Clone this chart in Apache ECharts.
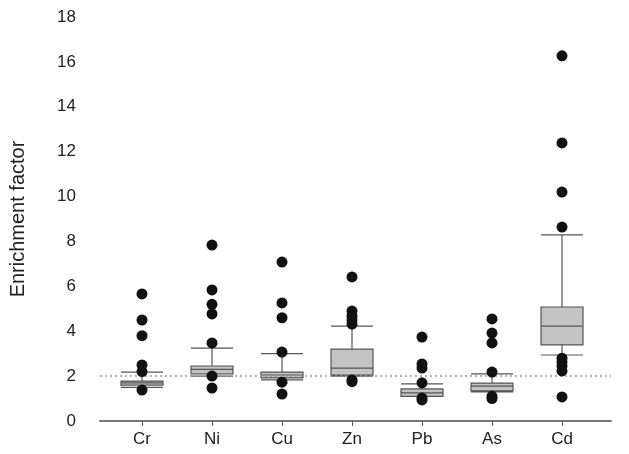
<!DOCTYPE html><html><head><meta charset="utf-8"><script src="https://cdn.jsdelivr.net/npm/echarts@6/dist/echarts.min.js"></script></head><body style="margin:0"><div id="c" style="width:629px;height:454px"></div><script>
const categories=['Cr','Ni','Cu','Zn','Pb','As','Cd'];
const boxes=[[1.5,1.6,1.7,1.78,2.18],[2.0,2.1,2.3,2.45,3.25],[1.83,1.92,2.05,2.18,3.0],[2.0,2.05,2.36,3.2,4.23],[1.1,1.1,1.25,1.43,1.65],[1.3,1.34,1.55,1.69,2.1],[2.94,3.39,4.23,5.08,8.29]];
const outliers=[[5.66,4.5,3.8,2.5,2.2,1.38],[7.84,5.84,5.2,4.77,3.48,2.0,1.47],[7.08,5.26,4.6,3.07,1.73,1.2],[6.42,4.9,4.68,4.5,4.32,1.83,1.75],[3.74,2.54,2.36,1.7,0.94,1.02],[4.55,3.92,3.48,2.18,1.1,1.0],[16.27,12.39,10.2,8.64,2.8,2.63,2.45,2.23,1.07]];
const yTicks=[0,2,4,6,8,10,12,14,16,18];
const boxData=boxes.map((b,i)=>[i+1,...b]);
const outData=[];outliers.forEach((o,i)=>o.forEach(v=>outData.push([i+1,v])));
const ch=echarts.init(document.getElementById('c'));
ch.setOption({animation:false,
grid:{left:100,right:18,top:17,bottom:33},
xAxis:{type:'value',min:0.4,max:7.7,splitLine:{show:false},axisLine:{lineStyle:{color:'#777',width:2}},
 axisTick:{customValues:[1,2,3,4,5,6,7],length:5,lineStyle:{color:'#555'}},
 axisLabel:{customValues:[1,2,3,4,5,6,7],formatter:v=>categories[Math.round(v)-1],fontSize:17,color:'#222',fontFamily:'Arial',margin:10}},
yAxis:{type:'value',min:0,max:18,interval:2,splitLine:{show:false},axisLine:{show:false},axisTick:{show:false},
 axisLabel:{fontSize:17,color:'#222',margin:24,fontFamily:'Arial'},
 name:'Enrichment factor',nameLocation:'middle',nameGap:72,nameTextStyle:{fontSize:20,color:'#222',fontFamily:'Arial'}},
series:[{type:'boxplot',data:boxData,encode:{x:0,y:[1,2,3,4,5]},boxWidth:[42,42],
 itemStyle:{color:'#c3c3c3',borderColor:'#555',borderWidth:1.2},
 markLine:{silent:true,symbol:'none',label:{show:false},lineStyle:{color:'#999',type:[2,3],width:1.5},data:[{yAxis:2}]}},
{type:'scatter',data:outData,symbolSize:11,itemStyle:{color:'#111',opacity:1},z:5}]});
</script></body></html>
